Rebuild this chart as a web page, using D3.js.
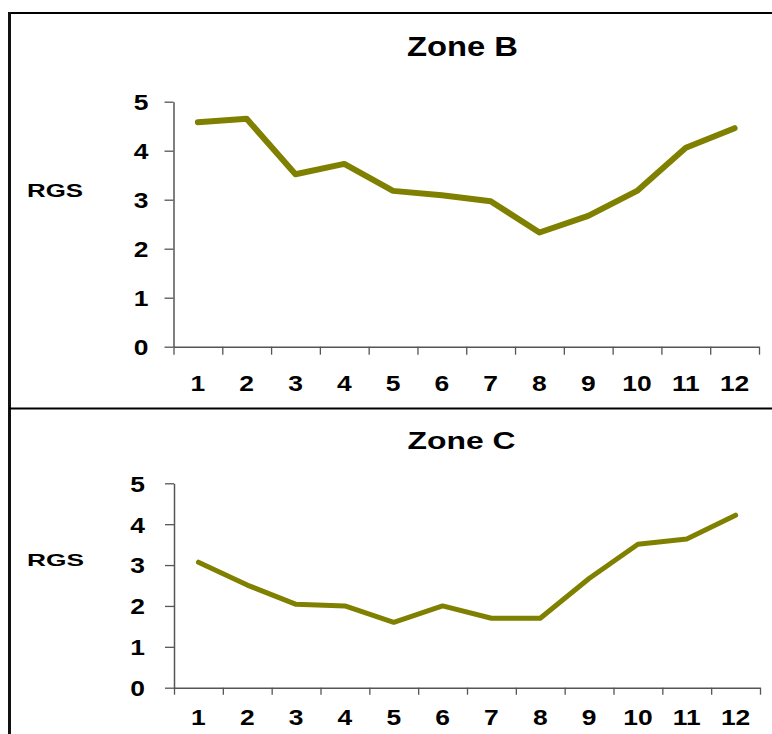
<!DOCTYPE html>
<html>
<head>
<meta charset="utf-8">
<script src="https://cdn.jsdelivr.net/npm/d3@7"></script>
<style>
  html, body { margin: 0; padding: 0; background: #fff; }
  svg { display: block; }
  text { font-family: "Liberation Sans", Arial, sans-serif; fill: #000; }
</style>
</head>
<body>
<svg id="chart" width="772" height="734"></svg>
<script>
// Months along the x axis and mean RGS per month for each zone
const months = ["1", "2", "3", "4", "5", "6", "7", "8", "9", "10", "11", "12"];
const zoneB = [4.58, 4.65, 3.52, 3.73, 3.18, 3.09, 2.97, 2.33, 2.67, 3.18, 4.06, 4.46];
const zoneC = [3.07, 2.51, 2.04, 2.00, 1.60, 2.00, 1.70, 1.70, 2.67, 3.51, 3.64, 4.22];
const yTicks = [0, 1, 2, 3, 4, 5];

const svg = d3.select("#chart");
const lineColor = "#808000";
const axisColor = "#555555";
const sx = 1.2; // horizontal widening of the bold tick labels

// Outer frame: top rule, left rule, and the divider between the two panels
svg.append("line").attr("x1", 8).attr("x2", 772).attr("y1", 13).attr("y2", 13)
  .attr("stroke", "#000").attr("stroke-width", 2);
svg.append("line").attr("x1", 9.5).attr("x2", 9.5).attr("y1", 12).attr("y2", 734)
  .attr("stroke", "#111").attr("stroke-width", 3);
svg.append("line").attr("x1", 9).attr("x2", 772).attr("y1", 408.5).attr("y2", 408.5)
  .attr("stroke", "#000").attr("stroke-width", 2);

function panel(cfg) {
  const g = svg.append("g");
  const x = d3.scaleBand().domain(months).range([cfg.x0, cfg.x1]).padding(0);
  const xEdges = d3.scaleLinear().domain([0, months.length]).range([cfg.x0, cfg.x1]);
  const y = d3.scaleLinear().domain([0, 5]).range([cfg.yBottom, cfg.yTop]);

  // Tick marks at the band boundaries
  const xAxis = g.append("g")
    .attr("transform", `translate(0,${cfg.yBottom})`)
    .call(d3.axisBottom(xEdges).tickValues(d3.range(months.length + 1))
      .tickFormat("").tickSize(cfg.xTick).tickSizeOuter(0));
  xAxis.select(".domain").attr("stroke", axisColor).attr("stroke-width", 1.5);
  xAxis.selectAll(".tick line").attr("stroke", axisColor).attr("stroke-width", 1.3);

  // Month labels centred in each band
  const xLab = g.append("g")
    .attr("transform", `translate(0,${cfg.yBottom})`)
    .call(d3.axisBottom(x).tickSize(0));
  xLab.select(".domain").remove();
  xLab.selectAll(".tick text")
    .attr("y", cfg.xLabelBase).attr("dy", 0)
    .attr("transform", `scale(${sx},1)`)
    .style("font-size", "22px").style("font-weight", "bold")
    .style("font-family", "'Liberation Sans', Arial, sans-serif")
    .attr("fill", "#000");

  const yAxis = g.append("g")
    .attr("transform", `translate(${cfg.x0},0)`)
    .call(d3.axisLeft(y).tickValues(yTicks).tickFormat(d3.format("d"))
      .tickSize(9).tickSizeOuter(0));
  yAxis.select(".domain").attr("stroke", axisColor).attr("stroke-width", 1.5);
  yAxis.selectAll(".tick line").attr("stroke", axisColor).attr("stroke-width", 1.3);
  yAxis.selectAll(".tick text")
    .attr("x", -cfg.yLabelGap / sx).attr("dy", "0.36em")
    .attr("transform", `scale(${sx},1)`)
    .style("font-size", "22px").style("font-weight", "bold")
    .style("font-family", "'Liberation Sans', Arial, sans-serif")
    .attr("fill", "#000");

  // Panel title and y-axis caption
  g.append("text")
    .attr("x", cfg.titleX).attr("y", cfg.titleY)
    .attr("text-anchor", "middle")
    .attr("textLength", cfg.titleW).attr("lengthAdjust", "spacingAndGlyphs")
    .style("font-size", cfg.titleSize + "px").style("font-weight", "bold")
    .text(cfg.title);
  g.append("text")
    .attr("x", 27).attr("y", cfg.rgsY)
    .attr("textLength", cfg.rgsW).attr("lengthAdjust", "spacingAndGlyphs")
    .style("font-size", cfg.rgsSize + "px").style("font-weight", "bold")
    .text("RGS");

  // Series line
  const line = d3.line()
    .x((d, i) => x(months[i]) + x.bandwidth() / 2)
    .y(d => y(d));
  g.append("path")
    .datum(cfg.values)
    .attr("d", line)
    .attr("fill", "none")
    .attr("stroke", lineColor)
    .attr("stroke-width", cfg.lineW)
    .attr("stroke-linejoin", "round")
    .attr("stroke-linecap", "round");
}

panel({
  title: "Zone B", values: zoneB,
  x0: 173.5, x1: 759, yTop: 101.7, yBottom: 346.7,
  xTick: 8, xLabelBase: 44, yLabelGap: 25,
  titleX: 462.5, titleY: 55.5, titleW: 111, titleSize: 27,
  rgsY: 196.7, rgsW: 56, rgsSize: 18, lineW: 6
});

panel({
  title: "Zone C", values: zoneC,
  x0: 174, x1: 760, yTop: 483.3, yBottom: 687.7,
  xTick: 7, xLabelBase: 37.5, yLabelGap: 29,
  titleX: 461.5, titleY: 449, titleW: 108, titleSize: 23,
  rgsY: 566, rgsW: 57, rgsSize: 17, lineW: 5
});
</script>
</body>
</html>
